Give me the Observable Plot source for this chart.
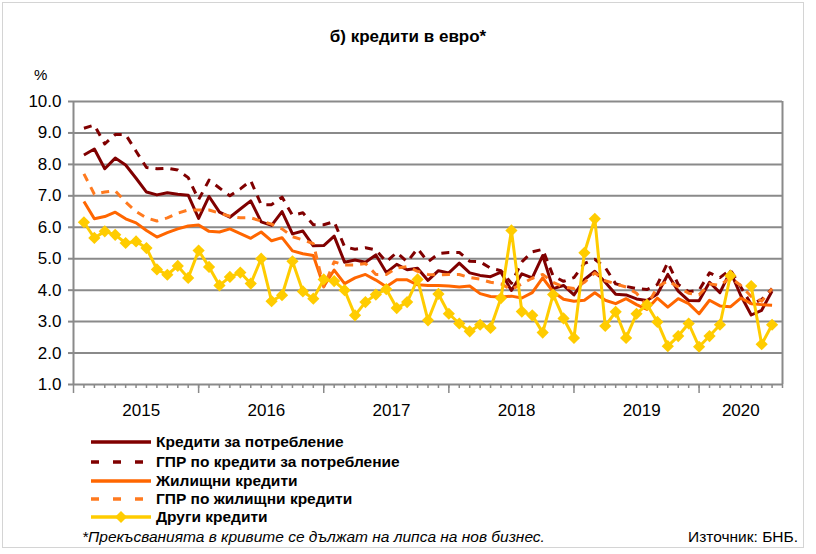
<!DOCTYPE html>
<html><head><meta charset="utf-8">
<script src="https://cdn.jsdelivr.net/npm/d3@7"></script>
<script src="https://cdn.jsdelivr.net/npm/@observablehq/plot@0.6"></script>
<style>
body{margin:0;background:#fff;font-family:"Liberation Sans",Arial,sans-serif;color:#000;}
#wrap{position:relative;width:816px;height:554px;overflow:hidden;background:#fff;}
#frame{position:absolute;left:2px;top:2px;width:802px;height:546px;border:1px solid #d4d4d4;box-sizing:border-box;}
#title{position:absolute;left:0;width:816px;top:27px;text-align:center;font-weight:bold;font-size:17px;}
#pct{position:absolute;left:34px;top:66px;font-size:15px;}
#chart{position:absolute;left:0;top:60px;}
.leg{position:absolute;left:90px;height:18px;display:flex;align-items:center;font-weight:bold;font-size:15.5px;white-space:nowrap;}
.leg svg{margin-right:4px;}
#note{position:absolute;left:82px;top:528px;font-style:italic;font-size:15.5px;white-space:nowrap;}
#src{position:absolute;left:688px;top:528px;font-size:15.5px;white-space:nowrap;}
</style></head>
<body>
<div id="wrap">
<div id="frame"></div>
<div id="title">б) кредити в евро*</div>
<div id="pct">%</div>
<div id="chart"></div>
<div id="legend"></div>
<div id="note">*Прекъсванията в кривите се дължат на липса на нов бизнес.</div>
<div id="src">Източник: БНБ.</div>
</div>
<script>
// Monthly data, Jan 2015 – Jul 2020
const startYear = 2015;
const years = ["2015","2016","2017","2018","2019","2020"];
const yTicks = [1,2,3,4,5,6,7,8,9,10];

const consumer = [8.30,8.49,7.86,8.20,7.98,7.56,7.12,7.03,7.10,7.05,7.02,6.28,
  6.98,6.48,6.32,6.58,6.84,6.17,6.06,6.50,5.79,5.88,5.41,5.42,
  5.72,4.89,4.96,4.89,5.12,4.56,4.82,4.65,4.70,4.31,4.62,4.55,
  4.86,4.55,4.47,4.43,4.57,3.99,4.52,4.39,5.10,4.05,4.15,3.85,
  4.34,4.60,4.25,3.87,3.85,3.72,3.67,3.88,4.50,3.97,3.67,3.66,
  4.25,3.92,4.60,3.83,3.21,3.36,3.97];
const aprConsumer = [9.15,9.25,8.65,8.95,8.95,8.42,7.90,7.86,7.88,7.82,7.58,6.88,
  7.50,7.25,7.00,7.22,7.48,6.72,6.72,6.96,6.38,6.46,6.08,6.08,
  6.18,5.38,5.30,5.35,5.28,4.90,5.20,4.90,5.32,4.90,5.16,5.20,
  5.20,4.92,4.90,4.70,4.62,4.22,4.90,5.22,5.30,4.45,4.28,4.40,
  4.85,4.98,4.72,4.20,4.12,4.05,4.02,4.18,4.88,4.18,3.95,4.00,
  4.55,4.40,4.65,4.10,3.55,3.70,4.05];
const housing = [6.82,6.27,6.34,6.48,6.27,6.14,5.90,5.69,5.83,5.95,6.04,6.07,
  5.87,5.85,5.95,5.80,5.65,5.85,5.57,5.67,5.25,5.16,5.10,4.12,
  4.64,4.21,4.39,4.50,4.32,4.11,4.33,4.33,4.17,4.15,4.15,4.13,
  4.10,4.13,3.89,3.80,3.78,3.81,3.75,3.92,4.39,3.95,3.71,3.65,
  3.68,3.92,3.68,3.57,3.73,3.54,3.39,3.75,3.46,3.73,3.57,3.25,
  3.68,3.50,3.47,3.75,3.57,3.54,3.52];
const aprHousing = [7.70,7.05,7.12,7.16,6.80,6.50,6.30,6.20,6.30,6.45,6.55,6.55,
  6.55,6.45,6.35,6.30,6.30,6.20,6.10,5.95,5.70,5.60,5.48,4.10,
  4.90,4.80,4.80,4.85,4.50,4.50,4.70,4.75,4.60,4.50,4.48,4.50,
  4.50,4.40,4.35,4.25,4.20,4.02,4.20,4.38,4.50,4.25,4.10,4.05,
  4.25,4.55,4.30,4.20,4.10,3.90,3.50,4.10,4.30,4.10,3.90,3.85,
  4.20,4.15,4.40,4.15,3.80,3.65,4.05];
const other = [6.16,5.66,5.87,5.76,5.50,5.55,5.34,4.66,4.49,4.77,4.39,5.26,
  4.74,4.15,4.42,4.56,4.21,5.00,3.65,3.84,4.92,3.96,3.73,4.34,
  4.29,4.00,3.20,3.62,3.86,4.03,3.43,3.62,4.34,3.04,3.88,3.25,
  2.94,2.69,2.90,2.80,3.75,5.90,3.32,3.20,2.65,3.86,3.10,2.48,
  5.19,6.27,2.86,3.31,2.48,3.25,3.54,2.99,2.22,2.54,2.94,2.20,
  2.54,2.90,4.46,null,4.13,2.28,2.90];

const seriesNames = ["Кредити за потребление","ГПР по кредити за потребление","Жилищни кредити","ГПР по жилищни кредити","Други кредити"];
const seriesColors = ["#800000","#800000","#FF6600","#FF7A1F","#FFCC00"];
const seriesDash = [null,"8,7",null,"8,7",null];
const seriesValues = [consumer, aprConsumer, housing, aprHousing, other];

const N = consumer.length;
const idx = d3.range(N);
const toRows = vals => vals.map((v,i)=>({i, v}));

const yearRows = years.map((y,k)=>{
  const a = k*12, b = Math.min(k*12+11, N-1);
  return {label:y, x:(a+b)/2};
});
const majorTicks = [-1, ...years.slice(0,-1).map((y,k)=>k*12+11)];
const minorTicks = [...idx, N];

const marks = [
  Plot.gridY(yTicks,{stroke:"#8a8a8a",strokeOpacity:1,strokeWidth:2}),
  Plot.ruleX([-1, N],{y1:1,y2:10,stroke:"#8a8a8a",strokeWidth:2}),
  Plot.axisY({ticks:yTicks,tickFormat:d3.format(".1f"),tickSize:5,tickPadding:7,stroke:"#8a8a8a",strokeWidth:2,fontSize:17,fill:"#000",label:null}),
  Plot.axisX({ticks:minorTicks,tickSize:4,tickFormat:()=>"",stroke:"#8a8a8a",strokeWidth:1.5,label:null}),
  Plot.axisX({ticks:majorTicks,tickSize:9,tickFormat:()=>"",stroke:"#8a8a8a",strokeWidth:1.5,label:null}),
  Plot.text(yearRows,{x:"x",y:()=>1,text:"label",dy:26,fontSize:17,fill:"#000"})
];
seriesValues.forEach((vals,s)=>{
  marks.push(Plot.line(toRows(vals),{x:"i",y:"v",stroke:seriesColors[s],strokeWidth:3,
    strokeDasharray:seriesDash[s]||undefined,strokeLinejoin:"round",strokeLinecap:"butt"}));
});
marks.push(Plot.dot(toRows(other).filter(d=>d.v!=null),{x:"i",y:"v",symbol:"diamond2",r:5.5,fill:"#FFCC00",stroke:"none"}));

const chart = Plot.plot({
  width:816, height:370,
  marginLeft:73, marginRight:34, marginTop:41, marginBottom:46,
  x:{domain:[-1,N], axis:null},
  y:{domain:[1,10], axis:null},
  style:{fontFamily:"'Liberation Sans', Arial, sans-serif",background:"transparent",overflow:"visible"},
  marks
});
document.getElementById("chart").appendChild(chart);

// Legend
const legTops = [433,453,472,490,508];
const legend = document.getElementById("legend");
seriesNames.forEach((name,s)=>{
  const row = document.createElement("div");
  row.className="leg";
  row.style.top = legTops[s]+"px";
  const dash = seriesDash[s] ? `stroke-dasharray="8,14"` : "";
  const marker = s===4 ? `<path d="M31,1 L37,7 L31,13 L25,7 Z" fill="#FFCC00"/>` : "";
  row.innerHTML = `<svg width="62" height="14"><line x1="1" x2="61" y1="7" y2="7" stroke="${seriesColors[s]}" stroke-width="3.5" ${dash}/>${marker}</svg><span>${name}</span>`;
  legend.appendChild(row);
});
</script>
</body></html>
